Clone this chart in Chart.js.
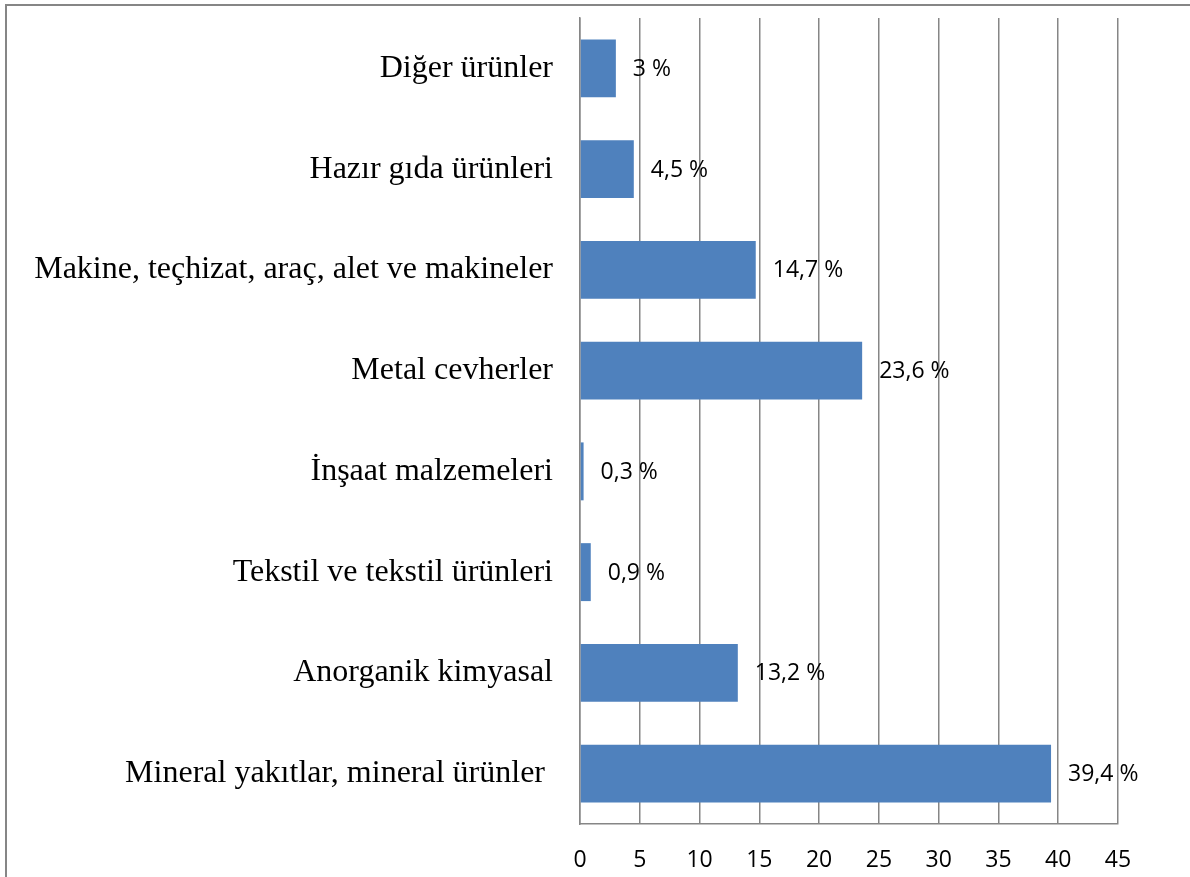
<!DOCTYPE html>
<html>
<head>
<meta charset="utf-8">
<script src="https://cdn.jsdelivr.net/npm/chart.js@4/dist/chart.umd.min.js"></script>
<style>
  html, body { margin: 0; padding: 0; background: #ffffff; }
  #wrap { position: relative; width: 1190px; height: 877px; }
  canvas { display: block; }
</style>
</head>
<body>
<div id="wrap"><canvas id="c" width="1190" height="877"></canvas></div>
<script>
const categories = [
  "Diğer ürünler",
  "Hazır gıda ürünleri",
  "Makine, teçhizat, araç, alet ve makineler",
  "Metal cevherler",
  "İnşaat malzemeleri",
  "Tekstil ve tekstil ürünleri",
  "Anorganik kimyasal",
  "Mineral yakıtlar, mineral ürünler "
];
const shares = [3, 4.5, 14.7, 23.6, 0.3, 0.9, 13.2, 39.4];
const xTicks = [0, 5, 10, 15, 20, 25, 30, 35, 40, 45];

const GRID = '#868686';
const SANS = '"Open Sans", "Liberation Sans", sans-serif';
const SERIF = '"Liberation Serif", "DejaVu Serif", serif';

const framePlugin = {
  id: 'frame',
  beforeDraw(chart) {
    const ctx = chart.ctx;
    ctx.save();
    ctx.fillStyle = '#ffffff';
    ctx.fillRect(0, 0, chart.width, chart.height);
    ctx.fillStyle = GRID;
    ctx.fillRect(5, 4, chart.width, 2);
    ctx.fillRect(5, 4, 2, chart.height);
    ctx.restore();
  }
};

const labelPlugin = {
  id: 'valueLabels',
  afterDatasetsDraw(chart) {
    const ctx = chart.ctx;
    const meta = chart.getDatasetMeta(0);
    ctx.save();
    ctx.font = '23px ' + SANS;
    ctx.fillStyle = '#000000';
    ctx.textAlign = 'left';
    ctx.textBaseline = 'middle';
    meta.data.forEach((bar, i) => {
      const txt = String(shares[i]).replace('.', ',') + ' %';
      ctx.fillText(txt, bar.x + 17, bar.y + 1);
    });
    ctx.restore();
  }
};

new Chart(document.getElementById('c'), {
  type: 'bar',
  data: {
    labels: categories,
    datasets: [{
      data: shares,
      backgroundColor: '#4F81BD',
      borderWidth: 0,
      categoryPercentage: 1,
      barPercentage: 0.575
    }]
  },
  options: {
    indexAxis: 'y',
    responsive: false,
    animation: false,
    devicePixelRatio: 1,
    layout: { padding: { top: 18, right: 72, left: 0, bottom: 0 } },
    plugins: { legend: { display: false }, tooltip: { enabled: false } },
    scales: {
      x: {
        type: 'linear',
        min: 0,
        max: 45,
        afterBuildTicks(scale) { scale.ticks = xTicks.map(v => ({ value: v })); },
        afterFit(scale) { scale.height = 53; scale.paddingLeft = 0; scale.paddingRight = 0; },
        ticks: {
          color: '#000000',
          font: { family: SANS, size: 23 },
          padding: 23,
          maxRotation: 0
        },
        grid: { color: GRID, lineWidth: 1.5, drawTicks: false },
        border: { color: GRID, width: 1.5 }
      },
      y: {
        afterFit(scale) { scale.width = 580; scale.paddingTop = 0; scale.paddingBottom = 0; },
        ticks: {
          color: '#000000',
          font: { family: SERIF, size: 32 },
          padding: 27
        },
        grid: { display: false, drawTicks: false },
        border: { color: GRID, width: 1.5 }
      }
    }
  },
  plugins: [framePlugin, labelPlugin]
});
</script>
</body>
</html>
